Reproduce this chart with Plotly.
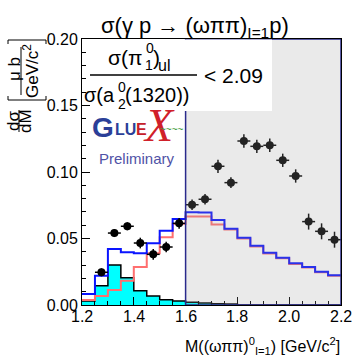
import plotly.graph_objects as go

# Binning of the mass spectrum (GeV/c^2)
bin_edges = [1.20, 1.25, 1.30, 1.35, 1.40, 1.45, 1.50, 1.55, 1.60, 1.65, 1.70,
             1.75, 1.80, 1.85, 1.90, 1.95, 2.00, 2.05, 2.10, 2.15, 2.20]

# Measured cross section (points, bin centres 1.275 ... 2.175)
data_x = [1.275, 1.325, 1.375, 1.425, 1.475, 1.525, 1.575, 1.625, 1.675, 1.725,
          1.775, 1.825, 1.875, 1.925, 1.975, 2.025, 2.075, 2.125, 2.175]
data_y = [0.0246, 0.0541, 0.0592, 0.0466, 0.0381, 0.0436, 0.0614, 0.0754, 0.0795, 0.1043,
          0.0920, 0.1233, 0.1193, 0.1201, 0.1088, 0.0970, 0.0627, 0.0554, 0.0491]
data_yerr = [0.003, 0.003, 0.003, 0.004, 0.004, 0.004, 0.004, 0.004, 0.004, 0.005,
             0.004, 0.005, 0.005, 0.005, 0.005, 0.005, 0.006, 0.006, 0.006]
data_xerr = [0.025] * len(data_x)

# Model histograms (one value per bin)
blue_hist = [0.0083, 0.0220, 0.0421, 0.0396, 0.0389, 0.0464, 0.0559, 0.0647, 0.0697, 0.0695,
             0.0640, 0.0573, 0.0506, 0.0446, 0.0393, 0.0356, 0.0313, 0.0286, 0.0250, 0.0223]
red_hist = [0.0038, 0.0068, 0.0113, 0.0183, 0.0285, 0.0389, 0.0509, 0.0610, 0.0665, 0.0665,
            0.0605, 0.0567, 0.0500, 0.0440, 0.0388, 0.0351, 0.0309, 0.0282, 0.0246, 0.0219]
cyan_hist = [0.0030, 0.0145, 0.0300, 0.0205, 0.0108, 0.0068, 0.0040, 0.0030, 0.0020, 0.0015,
             0.0010, 0.0007, 0.0, 0.0, 0.0, 0.0, 0.0, 0.0, 0.0, 0.0]

x_ticks = [1.2, 1.4, 1.6, 1.8, 2.0, 2.2]
y_ticks = [0.00, 0.05, 0.10, 0.15, 0.20]

excluded_lo, excluded_hi = 1.6, 2.2
ratio_limit = "2.09"

FONT = "Liberation Sans"
W, H = 354, 360
L, R, T, B = 82, 341, 39, 305


def px(x):
    return (x - L) / (R - L)


def py(y):
    return (B - y) / (B - T)


def steps(vals):
    return list(bin_edges), list(vals) + [vals[-1]]


fig = go.Figure()

sx, sy = steps(cyan_hist)
fig.add_trace(go.Scatter(x=sx, y=sy, mode="lines", line_shape="hv",
                         line=dict(color="black", width=1.5),
                         fill="tozeroy", fillcolor="#00ffff", hoverinfo="skip"))
sx, sy = steps(red_hist)
fig.add_trace(go.Scatter(x=sx, y=sy, mode="lines", line_shape="hv",
                         line=dict(color="#ff6f6f", width=2), hoverinfo="skip"))
sx, sy = steps(blue_hist)
fig.add_trace(go.Scatter(x=sx, y=sy, mode="lines", line_shape="hv",
                         line=dict(color="#0a14ff", width=2), hoverinfo="skip"))
fig.add_trace(go.Scatter(
    x=data_x, y=data_y, mode="markers",
    marker=dict(color="black", size=8, symbol="circle"),
    error_y=dict(type="data", array=data_yerr, color="black", thickness=1.5, width=0),
    error_x=dict(type="data", array=data_xerr, color="black", thickness=1.5, width=0),
))

shapes = [
    # excluded mass region, shaded on top of everything
    dict(type="rect", xref="x", yref="y", x0=excluded_lo, x1=excluded_hi, y0=0, y1=0.2,
         fillcolor="rgba(160,160,160,0.22)", line=dict(color="#2a2a8c", width=1.5),
         layer="above"),
    # white text panel
    dict(type="rect", xref="paper", yref="paper", x0=px(91), x1=px(272), y0=py(111), y1=py(T + 0.5),
         fillcolor="white", line=dict(width=0), layer="above"),
    # ratio fraction bar
    dict(type="line", xref="paper", yref="paper", x0=px(90), x1=px(197), y0=py(75), y1=py(75),
         line=dict(color="black", width=1.5), layer="above"),
    # y title fraction bars
    dict(type="line", xref="paper", yref="paper", x0=px(19), x1=px(19), y0=py(110), y1=py(132),
         line=dict(color="black", width=1)),
    dict(type="line", xref="paper", yref="paper", x0=px(21), x1=px(21), y0=py(47), y1=py(95),
         line=dict(color="black", width=1)),
]
# y title brackets
for yb, yt in [(100, 96), (40, 44)]:
    shapes.append(dict(type="path", xref="paper", yref="paper",
                       path=f"M {px(8)} {py(yt)} L {px(8)} {py(yb)} L {px(46)} {py(yb)} L {px(46)} {py(yt)}",
                       line=dict(color="black", width=1)))


def note(text, x, y, size=16, color="black", xa="center", ya="middle", angle=0, family=FONT):
    return dict(text=text, x=px(x), y=py(y), xref="paper", yref="paper", showarrow=False,
                xanchor=xa, yanchor=ya, textangle=angle,
                font=dict(family=family, size=size, color=color))


ann = [
    # title
    note("σ(γ p → (ωππ)<sub>I=1</sub>p)", 195, 27, size=22),
    # x title
    note("M((ωππ)<sup>0</sup><sub>I=1</sub>) [GeV/c<sup>2</sup>]", 342, 346, size=16, xa="right"),
    # y title
    note("dσ", 13, 121, size=17, angle=-90),
    note("dM", 25, 121, size=17, angle=-90),
    note("μ b", 14, 69, size=17, angle=-90),
    note("GeV/c<sup>2</sup>", 31, 71, size=17, angle=-90),
    # ratio text
    note("σ(π", 144, 58, size=21, xa="right"),
    note("0", 144, 48, size=14, xa="left"),
    note("1", 143, 65, size=14, xa="left"),
    note(")", 151, 58, size=21, xa="left"),
    note("ul", 156, 65, size=16, xa="left"),
    note("σ(a", 117, 95, size=20, xa="right"),
    note("0", 116, 87, size=14, xa="left"),
    note("2", 116, 104, size=14, xa="left"),
    note("(1320))", 123, 95, size=20, xa="left"),
    note("< " + ratio_limit, 202, 75, size=21, xa="left"),
    # experiment logo
    note("<b>G</b>", 90, 127, size=28, color="#2b3f98", xa="left"),
    note("<b>LU</b>", 113, 129, size=16, color="#2b3f98", xa="left"),
    note("<b>E</b>", 134, 129, size=16, color="#c4202a", xa="left"),
    note("<i>X</i>", 159, 126, size=46, color="#d0202a", family="Liberation Serif"),
    note("~~~~", 172, 129, size=10, color="#3a9a3a"),
    note("Preliminary", 137, 158, size=15, color="#4f52a6"),
]
# x tick labels, set just beneath the axis
for v in x_ticks:
    ann.append(dict(text=f"{v:.1f}", x=v, y=py(316), xref="x", yref="paper", showarrow=False,
                    xanchor="center", yanchor="middle", font=dict(family=FONT, size=16)))

fig.update_layout(
    width=W, height=H,
    margin=dict(l=L, r=W - R, t=T, b=H - B),
    paper_bgcolor="white", plot_bgcolor="white",
    showlegend=False,
    font=dict(family=FONT, size=16, color="black"),
    shapes=shapes,
    annotations=ann,
    xaxis=dict(range=[1.2, 2.2], tickvals=x_ticks, showticklabels=False,
               ticks="inside", ticklen=8, tickcolor="black", showgrid=False, zeroline=False,
               showline=True, linecolor="black", linewidth=1, mirror=True,
               minor=dict(dtick=0.05, tick0=1.2, ticks="inside", ticklen=4, tickcolor="black")),
    yaxis=dict(range=[0, 0.2], tickvals=y_ticks, ticktext=[f"{v:.2f}" for v in y_ticks],
               ticks="inside", ticklen=8, tickcolor="black", showgrid=False, zeroline=False,
               showline=True, linecolor="black", linewidth=1, mirror=True,
               minor=dict(dtick=0.01, tick0=0, ticks="inside", ticklen=4, tickcolor="black"),
               tickfont=dict(size=16)),
)

fig.write_html("out.html")
